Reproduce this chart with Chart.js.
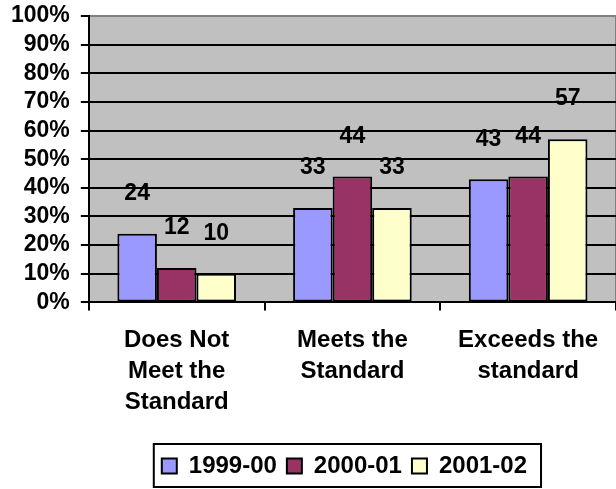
<!DOCTYPE html>
<html>
<head>
<meta charset="utf-8">
<script src="https://cdn.jsdelivr.net/npm/chart.js@4/dist/chart.umd.min.js"></script>
<style>
html,body{margin:0;padding:0;background:#fff;}
#wrap{width:616px;height:489px;position:relative;}
</style>
</head>
<body>
<div id="wrap"><canvas id="c" width="616" height="489"></canvas></div>
<script>
const categories = [["Does Not","Meet the","Standard"],["Meets the","Standard"],["Exceeds the","standard"]];
const seriesNames = ["1999-00","2000-01","2001-02"];
const s1999 = [24, 33, 43];
const s2000 = [12, 44, 44];
const s2001 = [10, 33, 57];
const yTicks = [0,10,20,30,40,50,60,70,80,90,100];
const colors = ["#9999FF","#993366","#FFFFCC"];

const FONT = "'Liberation Sans', Arial, sans-serif";

const bgPlugin = {
  id: 'bg',
  afterLayout(chart) {
    const lg = chart.legend;
    if (lg) { lg.left -= 8; lg.right -= 8; }
  },
  beforeDraw(chart) {
    const {ctx, chartArea: a} = chart;
    ctx.save();
    ctx.fillStyle = '#C0C0C0';
    ctx.fillRect(a.left, a.top, a.right - a.left, a.bottom - a.top);
    ctx.strokeStyle = '#808080';
    ctx.lineWidth = 2;
    ctx.beginPath();
    ctx.moveTo(a.left, a.top);
    ctx.lineTo(a.right, a.top);
    ctx.lineTo(a.right, a.bottom);
    ctx.stroke();
    ctx.restore();
  }
};

const labelPlugin = {
  id: 'vals',
  afterDatasetsDraw(chart) {
    const {ctx} = chart;
    ctx.save();
    ctx.font = "bold 23px " + FONT;
    ctx.fillStyle = '#000';
    ctx.textAlign = 'center';
    ctx.textBaseline = 'middle';
    chart.data.datasets.forEach((ds, i) => {
      chart.getDatasetMeta(i).data.forEach((el, j) => {
        ctx.fillText(String(ds.data[j]), el.x, el.y - 40);
      });
    });
    ctx.restore();
  }
};

const legendBox = {
  id: 'legendBox',
  afterDraw(chart) {
    const lg = chart.legend;
    if (!lg || !lg.legendHitBoxes || !lg.legendHitBoxes.length) return;
    const hb = lg.legendHitBoxes;
    let l = Infinity, r = -Infinity, t = Infinity, b = -Infinity;
    hb.forEach(h => { l = Math.min(l, h.left); r = Math.max(r, h.left + h.width); t = Math.min(t, h.top); b = Math.max(b, h.top + h.height); });
    const cy = (t + b) / 2;
    const {ctx} = chart;
    ctx.save();
    ctx.strokeStyle = '#000';
    ctx.lineWidth = 2;
    ctx.strokeRect(l - 8, cy - 22, (r - l) + 22, 43);
    ctx.restore();
  }
};

new Chart(document.getElementById('c'), {
  type: 'bar',
  data: {
    labels: categories,
    datasets: seriesNames.map((n, i) => ({
      label: n,
      data: [s1999, s2000, s2001][i],
      backgroundColor: colors[i],
      borderColor: '#000',
      borderWidth: 2,
      borderSkipped: false,
      categoryPercentage: 0.675,
      barPercentage: 1.0
    }))
  },
  options: {
    responsive: false,
    animation: false,
    devicePixelRatio: 1,
    layout: { padding: { left: 0, right: 0, top: 16, bottom: 1 } },
    plugins: {
      tooltip: { enabled: false },
      legend: {
        position: 'bottom',
        fullSize: false,
        labels: {
          font: { family: FONT, size: 24, weight: 'bold' },
          color: '#000',
          boxWidth: 15,
          boxHeight: 15,
          padding: 10,
          generateLabels(chart) {
            return chart.data.datasets.map((ds, i) => ({
              text: ds.label,
              fillStyle: ds.backgroundColor,
              strokeStyle: '#000',
              lineWidth: 2,
              datasetIndex: i,
              hidden: false,
              fontColor: '#000'
            }));
          }
        }
      }
    },
    scales: {
      x: {
        afterFit(scale) { scale.height += 12; },
        grid: { display: true, offset: true, drawOnChartArea: false, drawTicks: true, tickLength: 8, color: '#000', lineWidth: 2 },
        border: { display: true, color: '#000', width: 2 },
        ticks: { font: { family: FONT, size: 24, weight: 'bold', lineHeight: 1.3 }, color: '#000', padding: 14, maxRotation: 0, autoSkip: false }
      },
      y: {
        min: 0, max: 100,
        afterBuildTicks(scale) { scale.ticks = yTicks.map(v => ({value: v})); },
        afterFit(scale) { scale.paddingTop = 0; },
        grid: {
          color: ctx => (ctx.tick && ctx.tick.value === 100) ? '#808080' : '#000',
          tickColor: '#000',
          lineWidth: 2,
          tickLength: 8
        },
        border: { display: true, color: '#000', width: 2 },
        ticks: { font: { family: FONT, size: 23, weight: 'bold' }, color: '#000', padding: 11, autoSkip: false, callback: v => v + '%' }
      }
    }
  },
  plugins: [bgPlugin, labelPlugin, legendBox]
});
</script>
</body>
</html>
